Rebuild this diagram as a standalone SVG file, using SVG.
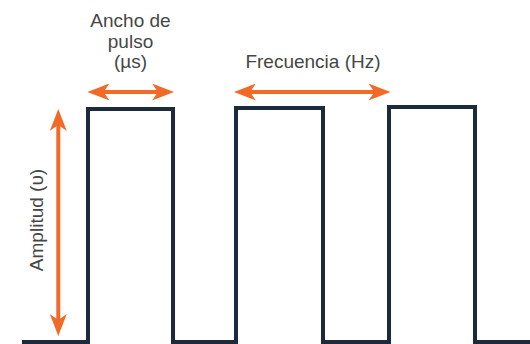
<svg xmlns="http://www.w3.org/2000/svg" width="530" height="344" viewBox="0 0 530 344">
<defs>
<style>
.lbl{font-family:"Liberation Sans","Noto Sans",Arial,sans-serif;font-size:19px;fill:#464646;}
.arr{stroke:#f26a27;stroke-width:4;fill:none;marker-start:url(#ah);marker-end:url(#ah);}
.sig{stroke:#1c2b3b;stroke-width:4;fill:none;stroke-linejoin:miter;}
</style>
<marker id="ah" markerUnits="userSpaceOnUse" viewBox="0 0 22 17" markerWidth="22" markerHeight="17" refX="7" refY="8.5" orient="auto-start-reverse">
<path d="M0,0 L22,8.5 L0,17 L6,8.5 Z" fill="#f26a27"/>
</marker>
</defs>
<rect width="530" height="344" fill="#ffffff"/>
<g id="signal">
<path class="sig" d="M22,342 H88 V109 H173 V342 H236 V108 H323 V342 H389 V107 H475 V342 H530"/>
</g>
<g id="connectors">
<line class="arr" x1="58.3" y1="124" x2="58.3" y2="321"/>
<line class="arr" x1="102.5" y1="92" x2="159" y2="92"/>
<line class="arr" x1="249" y1="92" x2="375.5" y2="92"/>
</g>
<g id="pulse-width-label">
<text class="lbl" text-anchor="middle" x="130.5" y="27">Ancho de</text>
<text class="lbl" text-anchor="middle" x="130.5" y="47.5">pulso</text>
<text class="lbl" text-anchor="middle" x="130.5" y="68">(µs)</text>
</g>
<g id="frequency-label">
<text class="lbl" text-anchor="middle" x="313" y="68">Frecuencia (Hz)</text>
</g>
<g id="amplitude-label">
<text class="lbl" text-anchor="middle" transform="translate(42.5,220) rotate(-90)">Amplitud (υ)</text>
</g>
</svg>
